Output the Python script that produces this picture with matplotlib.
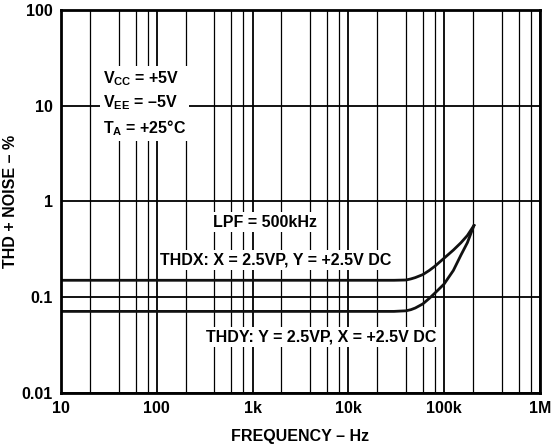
import matplotlib
matplotlib.use("Agg")
import matplotlib.pyplot as plt
from matplotlib.ticker import FixedLocator, NullFormatter
import numpy as np

plt.rcParams["font.family"] = ["Liberation Sans", "DejaVu Sans"]
plt.rcParams["font.weight"] = "bold"
plt.rcParams["mathtext.fontset"] = "custom"
plt.rcParams["mathtext.rm"] = "Liberation Sans:bold"
plt.rcParams["mathtext.bf"] = "Liberation Sans:bold"
plt.rcParams["mathtext.it"] = "Liberation Sans:bold"

# valeurs
freq_x = [10, 30e3, 40e3, 45e3, 50e3, 60e3, 70e3, 80e3, 100e3, 125e3, 150e3, 175e3, 205e3]
thdx = [0.15, 0.15, 0.151, 0.155, 0.16, 0.172, 0.19, 0.21, 0.255, 0.31, 0.37, 0.44, 0.56]
freq_y = [10, 30e3, 40e3, 45e3, 50e3, 60e3, 70e3, 80e3, 100e3, 125e3, 150e3, 175e3, 205e3]
thdy = [0.071, 0.071, 0.072, 0.074, 0.077, 0.085, 0.097, 0.11, 0.137, 0.19, 0.275, 0.37, 0.56]

x_ticks = [10, 100, 1e3, 1e4, 1e5, 1e6]
x_labels = ["10", "100", "1k", "10k", "100k", "1M"]
y_ticks = [0.01, 0.1, 1, 10, 100]
y_labels = ["0.01", "0.1", "1", "10", "100"]

fs = 11.5

fig = plt.figure(figsize=(5.6, 4.46), dpi=100)
ax = fig.add_axes([0.109, 0.119, 0.855, 0.859])
ax.set_xscale("log")
ax.set_yscale("log")
ax.set_xlim(10, 1e6)
ax.set_ylim(0.01, 100)

# grille : decades + 2,4,6,8
minor = [m * 10 ** d for d in range(1, 6) for m in (2, 4, 6, 8)]
ax.xaxis.set_major_locator(FixedLocator(x_ticks))
ax.xaxis.set_minor_locator(FixedLocator(minor))
ax.xaxis.set_minor_formatter(NullFormatter())
ax.yaxis.set_major_locator(FixedLocator(y_ticks))
ax.yaxis.set_minor_locator(FixedLocator([]))
ax.set_xticklabels(x_labels, fontweight="bold", fontsize=fs)
ax.set_yticklabels(y_labels, fontweight="bold", fontsize=fs)
ax.grid(which="major", color="black", linewidth=1.3)
ax.grid(which="minor", axis="x", color="black", linewidth=0.9)
ax.tick_params(which="both", length=0, pad=6)
for s in ax.spines.values():
    s.set_linewidth(2)

ax.plot(freq_x, thdx, color="#111111", linewidth=2)
ax.plot(freq_y, thdy, color="#111111", linewidth=2)

box = dict(facecolor="white", edgecolor="none", pad=2)
ax.text(0.088, 0.845, "$V_{CC}$ = +5V\n$V_{EE}$ = –5V\n$T_A$ = +25°C",
        transform=ax.transAxes, fontsize=fs, fontweight="bold",
        va="top", ha="left", linespacing=1.4, bbox=box)
ax.text(0.426, 0.446, "LPF = 500kHz", transform=ax.transAxes, fontsize=fs,
        fontweight="bold", ha="center", va="center", bbox=box)
ax.text(0.449, 0.347, "THDX: X = 2.5VP, Y = +2.5V DC", transform=ax.transAxes,
        fontsize=fs, fontweight="bold", ha="center", va="center", bbox=box)
ax.text(0.543, 0.146, "THDY: Y = 2.5VP, X = +2.5V DC", transform=ax.transAxes,
        fontsize=fs, fontweight="bold", ha="center", va="center", bbox=box)

ax.set_xlabel("FREQUENCY – Hz", fontsize=fs, fontweight="bold")
ax.set_ylabel("THD + NOISE – %", fontsize=fs, fontweight="bold")
ax.xaxis.set_label_coords(0.5, -0.095)
ax.yaxis.set_label_coords(-0.09, 0.5)

fig.savefig("out.png", dpi=100)
